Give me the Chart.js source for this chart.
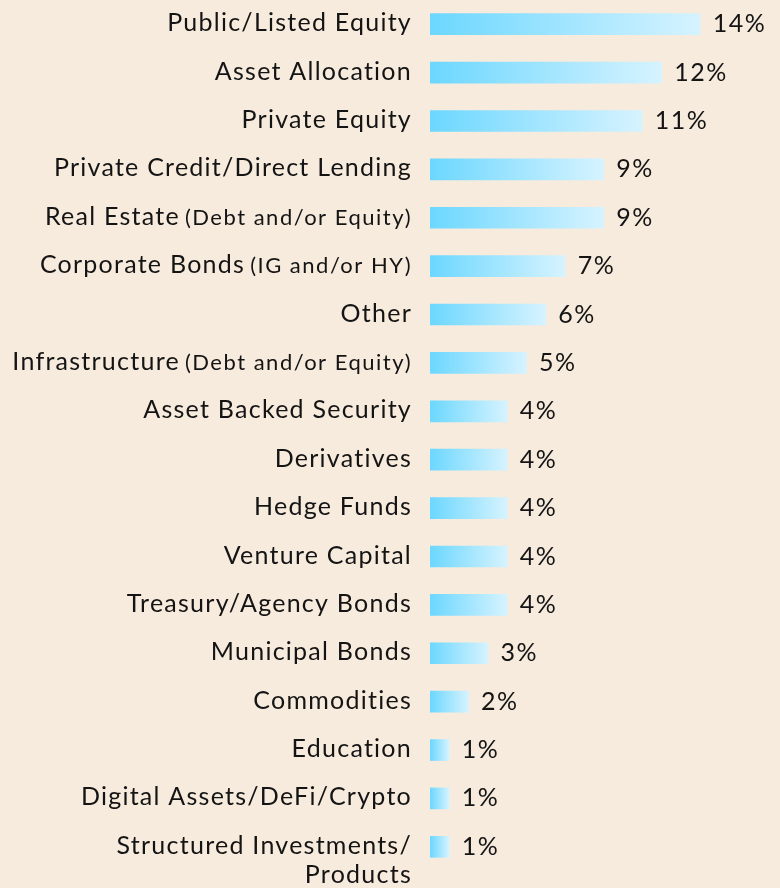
<!DOCTYPE html>
<html>
<head>
<meta charset="utf-8">
<script src="https://cdn.jsdelivr.net/npm/chart.js@4.4.1/dist/chart.umd.min.js"></script>
<style>
  html, body { margin: 0; padding: 0; background: #F7EBDD; }
  #wrap { width: 780px; height: 888px; }
</style>
</head>
<body>
<div id="wrap"><canvas id="c" width="780" height="888"></canvas></div>
<script>
const categories = [
  ["Public/Listed Equity", ""],
  ["Asset Allocation", ""],
  ["Private Equity", ""],
  ["Private Credit/Direct Lending", ""],
  ["Real Estate", "(Debt and/or Equity)"],
  ["Corporate Bonds", "(IG and/or HY)"],
  ["Other", ""],
  ["Infrastructure", "(Debt and/or Equity)"],
  ["Asset Backed Security", ""],
  ["Derivatives", ""],
  ["Hedge Funds", ""],
  ["Venture Capital", ""],
  ["Treasury/Agency Bonds", ""],
  ["Municipal Bonds", ""],
  ["Commodities", ""],
  ["Education", ""],
  ["Digital Assets/DeFi/Crypto", ""],
  ["Structured Investments/\nProducts", ""]
];
const values = [14, 12, 11, 9, 9, 7, 6, 5, 4, 4, 4, 4, 4, 3, 2, 1, 1, 1];
const valueLabels = values.map(v => v + "%");

const FONT = "Lato, 'Open Sans', sans-serif";
const TEXT = "#141414";

function barGradient(ctx) {
  const chart = ctx.chart;
  const xs = chart.scales && chart.scales.x;
  if (!chart.chartArea || !xs) return "#6FD8FF";
  const x0 = xs.getPixelForValue(0);
  const x1 = xs.getPixelForValue(values[ctx.dataIndex]);
  const g = chart.ctx.createLinearGradient(x0, 0, x1, 0);
  g.addColorStop(0, "#6CD7FF");
  g.addColorStop(1, "#D6F3FF");
  return g;
}

function setFont(c, size, spacing) {
  c.font = size + "px " + FONT;
  if ("letterSpacing" in c) c.letterSpacing = spacing + "px";
  if ("fontVariantLigatures" in c) c.fontVariantLigatures = "none";
}

const labelPlugin = {
  id: "labels",
  afterDatasetsDraw(chart) {
    const c = chart.ctx;
    const ys = chart.scales.y;
    const meta = chart.getDatasetMeta(0);
    c.save();
    c.fillStyle = TEXT;
    c.textBaseline = "middle";
    categories.forEach((cat, i) => {
      const y = ys.getPixelForValue(i) - 1;
      const right = 412;
      const lines = cat[0].split("\n");
      c.textAlign = "right";
      if (cat[1]) {
        setFont(c, 22, 1.5);
        c.fillText(cat[1], right, y + 1);
        const w = c.measureText(cat[1]).width;
        setFont(c, 25, 1.25);
        c.fillText(lines[0], right - w - 5, y);
      } else {
        setFont(c, 25, 1.25);
        lines.forEach((ln, k) => c.fillText(ln, right, y + k * 29));
      }
      const bar = meta.data[i];
      setFont(c, 25, 1.5);
      c.textAlign = "left";
      c.fillText(valueLabels[i], bar.x + 12.5, y + 1);
    });
    c.restore();
  }
};

new Chart(document.getElementById("c"), {
  type: "bar",
  data: {
    labels: categories.map(c => c[0]),
    datasets: [{
      data: values,
      backgroundColor: barGradient,
      borderWidth: 0,
      barThickness: 21
    }]
  },
  options: {
    indexAxis: "y",
    responsive: false,
    animation: false,
    layout: { padding: { left: 430, right: 0, top: 0, bottom: 17 } },
    plugins: { legend: { display: false }, tooltip: { enabled: false } },
    scales: {
      x: { display: false, min: 0, max: 18.13 },
      y: { display: false }
    }
  },
  plugins: [labelPlugin]
});
</script>
</body>
</html>
